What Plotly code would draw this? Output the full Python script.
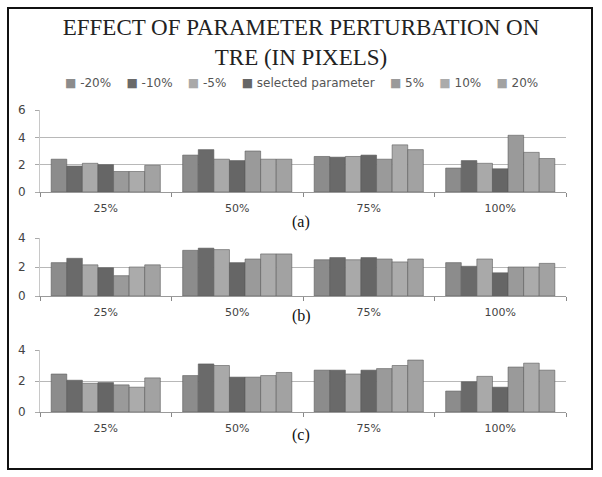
import plotly.graph_objects as go

categories = ["25%", "50%", "75%", "100%"]
series_names = ["-20%", "-10%", "-5%", "selected parameter", "5%", "10%", "20%"]
series_colors = ["#8c8c8c", "#6a6a6a", "#a9a9a9", "#666666", "#9a9a9a", "#ababab", "#a2a2a2"]

# values per series (order: 25%, 50%, 75%, 100%)
panel_a = {
    "-20%": [2.4, 2.7, 2.6, 1.75],
    "-10%": [1.9, 3.1, 2.55, 2.3],
    "-5%": [2.1, 2.4, 2.6, 2.1],
    "selected parameter": [2.0, 2.3, 2.7, 1.7],
    "5%": [1.5, 3.0, 2.4, 4.15],
    "10%": [1.5, 2.4, 3.45, 2.9],
    "20%": [1.95, 2.4, 3.1, 2.45],
}
panel_b = {
    "-20%": [2.3, 3.15, 2.5, 2.3],
    "-10%": [2.6, 3.3, 2.65, 2.05],
    "-5%": [2.15, 3.2, 2.5, 2.55],
    "selected parameter": [1.95, 2.3, 2.65, 1.6],
    "5%": [1.4, 2.55, 2.55, 2.0],
    "10%": [2.0, 2.9, 2.35, 2.0],
    "20%": [2.15, 2.9, 2.55, 2.25],
}
panel_c = {
    "-20%": [2.45, 2.35, 2.7, 1.35],
    "-10%": [2.05, 3.1, 2.7, 1.95],
    "-5%": [1.85, 3.0, 2.45, 2.3],
    "selected parameter": [1.9, 2.25, 2.7, 1.6],
    "5%": [1.75, 2.25, 2.8, 2.9],
    "10%": [1.6, 2.35, 3.0, 3.15],
    "20%": [2.2, 2.55, 3.35, 2.7],
}
panels = [panel_a, panel_b, panel_c]
panel_labels = ["(a)", "(b)", "(c)"]
y_ranges = [[0, 6], [0, 4], [0, 4]]
y_ticks = [[0, 2, 4, 6], [0, 2, 4], [0, 2, 4]]

W, H = 602, 477
panel_px = [(110, 192), (238, 296), (350, 412)]
label_px = [222, 327, 446]
x_left, x_right = 40, 566

fig = go.Figure()
sans = "DejaVu Sans, Liberation Sans, sans-serif"
serif = "Liberation Serif, Times New Roman, serif"

for i, panel in enumerate(panels):
    ax = "" if i == 0 else str(i + 1)
    for name, color in zip(series_names, series_colors):
        fig.add_trace(go.Bar(
            x=categories, y=panel[name], name=name,
            marker=dict(color=color, line=dict(color="#5a5a5a", width=0.6)),
            xaxis="x" + ax, yaxis="y" + ax,
            legendgroup=name, showlegend=False,
        ))
    top, bot = panel_px[i]
    fig.update_layout({
        "xaxis" + ax: dict(
            domain=[x_left / W, x_right / W], anchor="y" + ax,
            type="category", tickson="boundaries", ticks="outside", ticklen=4,
            tickcolor="#888888", showline=True, linecolor="#9a9a9a", linewidth=1,
            tickfont=dict(family=sans, size=11, color="#444444"), showgrid=False,
            ticklabelstandoff=6,
        ),
        "yaxis" + ax: dict(
            domain=[1 - bot / H, 1 - top / H], anchor="x" + ax,
            range=y_ranges[i], tickvals=y_ticks[i], ticks="outside", ticklen=4,
            tickcolor="#aaaaaa", showline=True, linecolor="#c8c8c8",
            gridcolor="#b8b8b8", gridwidth=1, zeroline=False,
            tickfont=dict(family=sans, size=12, color="#444444"),
            ticklabelstandoff=7,
        ),
    })
    fig.add_annotation(text=panel_labels[i], x=301 / W, y=1 - label_px[i] / H,
                       xref="paper", yref="paper", showarrow=False,
                       font=dict(family=serif, size=16, color="#111111"))

# legend row built from series names and colours
legend_text = "&nbsp;&nbsp;&nbsp;&nbsp;".join(
    f"<span style='color:{c}'>■</span> {n}" for n, c in zip(series_names, series_colors)
)
fig.add_annotation(text=legend_text, x=301 / W, y=1 - 83 / H, xref="paper", yref="paper",
                   xanchor="center", yanchor="middle", showarrow=False,
                   font=dict(family=sans, size=12, color="#555555"))

fig.add_shape(type="rect", xref="paper", yref="paper",
              x0=8 / W, x1=592 / W, y0=1 - 469 / H, y1=1 - 8 / H,
              line=dict(color="#111111", width=2))

fig.update_layout(
    width=W, height=H, margin=dict(l=0, r=0, t=0, b=0, autoexpand=False),
    paper_bgcolor="white", plot_bgcolor="white",
    barmode="group", bargap=0.17, bargroupgap=0,
    title=dict(text="EFFECT OF PARAMETER PERTURBATION ON<br>TRE (IN PIXELS)",
               x=0.5, xanchor="center", y=1 - 35 / H, yanchor="top",
               font=dict(family=serif, size=23, color="#222222")),
    showlegend=False,
)

fig.write_html("out.html", config={"displayModeBar": False},
               post_script="document.body.style.margin='0';document.body.style.overflow='hidden';")
